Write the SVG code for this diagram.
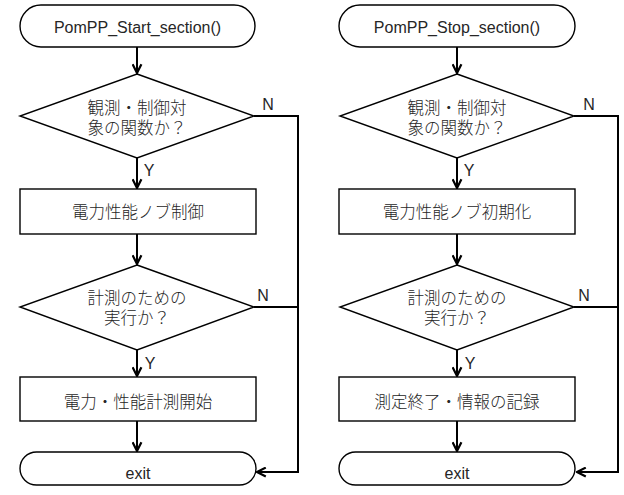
<svg xmlns="http://www.w3.org/2000/svg" width="624" height="495" viewBox="0 0 624 495">
  <style>
    .shape { fill: #fff; stroke: #000; stroke-width: 1.4; }
    .flow { fill: none; stroke: #000; stroke-width: 2; marker-end: url(#head); }
    .plain { fill: none; stroke: #000; stroke-width: 2; }
    .lbl { font-family: "Liberation Sans", "Noto Sans CJK JP", sans-serif; font-size: 16px; fill: #262626; text-anchor: middle; }
    .jp { font-family: "Noto Sans CJK JP", "Liberation Sans", sans-serif; font-size: 16.5px; font-weight: 300; fill: #262626; text-anchor: middle; }
  </style>
  <defs>
    <marker id="head" viewBox="0 0 10 10" refX="9" refY="5" markerWidth="5.5" markerHeight="5.5" orient="auto" markerUnits="strokeWidth">
      <path d="M1,1 L9,5 L1,9" fill="none" stroke="#000" stroke-width="2"/>
    </marker>
  </defs>

  <rect width="624" height="495" fill="#fff"/>

  <!-- connectors -->
  <g id="connectors">
    <!-- left flow -->
    <line class="flow" x1="137" y1="47" x2="137" y2="73"/>
    <line class="flow" x1="137" y1="158" x2="137" y2="188"/>
    <line class="flow" x1="137" y1="234" x2="137" y2="264"/>
    <line class="flow" x1="137" y1="350" x2="137" y2="376"/>
    <line class="flow" x1="137" y1="421" x2="137" y2="451"/>
    <polyline class="plain" points="254,116 298,116 298,472"/>
    <line class="plain" x1="254" y1="307" x2="298" y2="307"/>
    <polyline class="flow" points="298,471 298,472 257,472"/>
    <text class="lbl" x="149" y="176">Y</text>
    <text class="lbl" x="150" y="369">Y</text>
    <text class="lbl" x="268" y="110">N</text>
    <text class="lbl" x="263" y="301">N</text>

    <!-- right flow -->
    <line class="flow" x1="457" y1="47" x2="457" y2="73"/>
    <line class="flow" x1="457" y1="158" x2="457" y2="188"/>
    <line class="flow" x1="457" y1="234" x2="457" y2="264"/>
    <line class="flow" x1="457" y1="350" x2="457" y2="376"/>
    <line class="flow" x1="457" y1="421" x2="457" y2="451"/>
    <polyline class="plain" points="574,116 618,116 618,472"/>
    <line class="plain" x1="574" y1="307" x2="618" y2="307"/>
    <polyline class="flow" points="618,471 618,472 577,472"/>
    <text class="lbl" x="469" y="176">Y</text>
    <text class="lbl" x="470" y="369">Y</text>
    <text class="lbl" x="589" y="110">N</text>
    <text class="lbl" x="584" y="301">N</text>
  </g>

  <!-- left column nodes -->
  <g id="start-left">
    <rect class="shape" x="20" y="5" width="235" height="42" rx="21"/>
    <text class="lbl" x="137.5" y="33">PomPP_Start_section()</text>
  </g>
  <g id="check-target-left">
    <polygon class="shape" points="137,74 254,116 137,158 20,116"/>
    <text class="jp" x="137" y="114"><tspan x="137">観測・制御対</tspan><tspan x="137" dy="20">象の関数か？</tspan></text>
  </g>
  <g id="knob-control">
    <rect class="shape" x="20" y="189" width="236" height="45"/>
    <text class="jp" x="138" y="218">電力性能ノブ制御</text>
  </g>
  <g id="check-measure-left">
    <polygon class="shape" points="137,265 254,307 137,350 20,307"/>
    <text class="jp" x="137" y="304"><tspan x="137">計測のための</tspan><tspan x="137" dy="20">実行か？</tspan></text>
  </g>
  <g id="measure-start">
    <rect class="shape" x="20" y="377" width="236" height="44"/>
    <text class="jp" x="138" y="408">電力・性能計測開始</text>
  </g>
  <g id="exit-left">
    <rect class="shape" x="20" y="452" width="236" height="33" rx="16.5"/>
    <text class="lbl" x="138" y="479">exit</text>
  </g>

  <!-- right column nodes -->
  <g id="start-right">
    <rect class="shape" x="339" y="5" width="236" height="42" rx="21"/>
    <text class="lbl" x="457" y="33">PomPP_Stop_section()</text>
  </g>
  <g id="check-target-right">
    <polygon class="shape" points="457,74 574,116 457,158 340,116"/>
    <text class="jp" x="457" y="114"><tspan x="457">観測・制御対</tspan><tspan x="457" dy="20">象の関数か？</tspan></text>
  </g>
  <g id="knob-init">
    <rect class="shape" x="339" y="189" width="236" height="45"/>
    <text class="jp" x="457" y="218">電力性能ノブ初期化</text>
  </g>
  <g id="check-measure-right">
    <polygon class="shape" points="457,265 574,307 457,350 340,307"/>
    <text class="jp" x="457" y="304"><tspan x="457">計測のための</tspan><tspan x="457" dy="20">実行か？</tspan></text>
  </g>
  <g id="measure-end">
    <rect class="shape" x="339" y="377" width="236" height="44"/>
    <text class="jp" x="457" y="408">測定終了・情報の記録</text>
  </g>
  <g id="exit-right">
    <rect class="shape" x="339" y="452" width="236" height="33" rx="16.5"/>
    <text class="lbl" x="457" y="479">exit</text>
  </g>
</svg>
